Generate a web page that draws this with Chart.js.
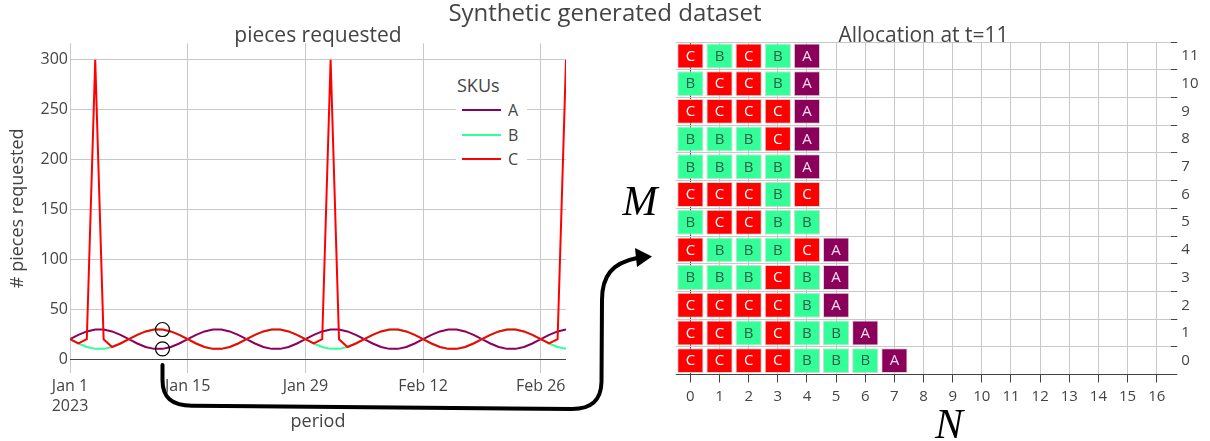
<!DOCTYPE html>
<html><head><meta charset="utf-8">
<script src="https://cdn.jsdelivr.net/npm/chart.js@4.4.1/dist/chart.umd.min.js"></script>
<style>
html,body{margin:0;padding:0;background:#fff;width:1210px;height:441px;overflow:hidden;font-family:'Open Sans',sans-serif;color:#444}
#wrap{position:relative;width:1210px;height:441px}
canvas{position:absolute;top:0}
.t{position:absolute;white-space:nowrap;transform:translate(-50%,-50%);color:#444;line-height:1}
.math{font-family:'Liberation Serif','DejaVu Serif',serif;font-style:italic;color:#000;font-size:42px}
#legend{position:absolute;left:456px;top:66px;width:71px;height:106px;background:#fff}
.lline{position:absolute;height:2px}
.ltxt{position:absolute;font-size:16px;color:#444;line-height:1;transform:translateY(-50%)}
svg{position:absolute;left:0;top:0;pointer-events:none}
</style></head>
<body><div id="wrap">
<canvas id="left" width="600" height="441" style="left:0"></canvas>
<canvas id="right" width="610" height="441" style="left:600px"></canvas>
<div class="t" style="left:605px;top:12px;font-size:24px">Synthetic generated dataset</div>
<div class="t" style="left:318px;top:34px;font-size:21px">pieces requested</div>
<div class="t" style="left:923.5px;top:34px;font-size:21px">Allocation at t=11</div>
<div class="t math" style="left:640px;top:201px">M</div>
<div class="t math" style="left:949px;top:424px">N</div>
<div id="legend"></div>
<svg width="1210" height="441" viewBox="0 0 1210 441">
<path d="M162.5,365 L162.5,380 C162.5,398 172,405.5 192,405.8 L572,409 C592,409 601,400 601.5,382 L602,300 C602,276 612,263 637,258" fill="none" stroke="#000" stroke-width="4" stroke-linecap="round"/>
<polygon points="652,256.5 635,248 637,267" fill="#000"/>
</svg>
</div>
<script>
// ---------- data: left chart ----------
const skus = ['A', 'B', 'C'];
const skuColors = ['#8a005a', '#33ff99', '#ff0000'];
const startDate = '2023-01-01';
const seriesA = [
 20,24.3,27.8,29.7,29.7,27.8,24.3,20,15.7,12.2,10.3,10.3,12.2,15.7,
 20,24.3,27.8,29.7,29.7,27.8,24.3,20,15.7,12.2,10.3,10.3,12.2,15.7,
 20,24.3,27.8,29.7,29.7,27.8,24.3,20,15.7,12.2,10.3,10.3,12.2,15.7,
 20,24.3,27.8,29.7,29.7,27.8,24.3,20,15.7,12.2,10.3,10.3,12.2,15.7,
 20,24.3,27.8,29.7];
const seriesB = [
 20,15.7,12.2,10.3,10.3,12.2,15.7,20,24.3,27.8,29.7,29.7,27.8,24.3,
 20,15.7,12.2,10.3,10.3,12.2,15.7,20,24.3,27.8,29.7,29.7,27.8,24.3,
 20,15.7,12.2,10.3,10.3,12.2,15.7,20,24.3,27.8,29.7,29.7,27.8,24.3,
 20,15.7,12.2,10.3,10.3,12.2,15.7,20,24.3,27.8,29.7,29.7,27.8,24.3,
 20,15.7,12.2,10.3];
const seriesC = [
 20,15.7,20,300,20,12.2,15.7,20,24.3,27.8,29.7,29.7,27.8,24.3,
 20,15.7,12.2,10.3,10.3,12.2,15.7,20,24.3,27.8,29.7,29.7,27.8,24.3,
 20,15.7,20,300,20,12.2,15.7,20,24.3,27.8,29.7,29.7,27.8,24.3,
 20,15.7,12.2,10.3,10.3,12.2,15.7,20,24.3,27.8,29.7,29.7,27.8,24.3,
 20,15.7,20,300];
const dayTicks = [0, 14, 28, 42, 56];
const dayTickLabels = [['Jan 1', '2023'], 'Jan 15', 'Jan 29', 'Feb 12', 'Feb 26'];
const yTicks = [0, 50, 100, 150, 200, 250, 300];
const markedDay = 11;

// ---------- data: right chart ----------
// allocation[M] = SKUs placed at N = 0,1,2,...
const allocation = [
 ['C','C','C','C','B','B','B','A'],
 ['C','C','B','C','B','B','A'],
 ['C','C','C','C','B','A'],
 ['B','B','B','C','B','A'],
 ['C','B','B','B','C','A'],
 ['B','C','C','B','B'],
 ['C','C','C','B','C'],
 ['B','B','B','B','A'],
 ['B','B','B','C','A'],
 ['C','C','C','C','A'],
 ['B','C','C','B','A'],
 ['C','B','C','B','A']
];
const nTicks = [0,1,2,3,4,5,6,7,8,9,10,11,12,13,14,15,16];
const mTicks = [0,1,2,3,4,5,6,7,8,9,10,11];
const cellTextColors = {A: '#f4dcea', B: '#2e5c46', C: '#ffffff'};

// ---------- common ----------
Chart.defaults.font.family = "'Open Sans', sans-serif";
Chart.defaults.color = '#444';
const GRID = '#c8c8c8';
const ZERO = '#444';
const gridColor = ctx => (ctx.tick && ctx.tick.value === 0) ? ZERO : GRID;

// ---------- legend (HTML) ----------
(function () {
  const lg = document.getElementById('legend');
  const title = document.createElement('div');
  title.className = 'ltxt';
  title.style.cssText = 'left:1px;top:19px;font-size:18px';
  title.textContent = 'SKUs';
  lg.appendChild(title);
  skus.forEach((s, i) => {
    const y = 44 + i * 24.6;
    const ln = document.createElement('div');
    ln.className = 'lline';
    ln.style.cssText = `left:6px;top:${y - 1}px;width:39px;background:${skuColors[i]}`;
    lg.appendChild(ln);
    const tx = document.createElement('div');
    tx.className = 'ltxt';
    tx.style.cssText = `left:52px;top:${y}px`;
    tx.textContent = s;
    lg.appendChild(tx);
  });
})();

// ---------- left chart ----------
const series = [seriesA, seriesB, seriesC];
const leftDatasets = skus.map((s, i) => ({
  label: s,
  data: series[i].map((v, d) => ({x: d, y: v})),
  borderColor: skuColors[i],
  backgroundColor: skuColors[i],
  borderWidth: 2,
  pointRadius: 0,
  tension: 0,
  order: 3 - i
}));
leftDatasets.push({
  label: 'marks',
  data: [{x: markedDay, y: seriesA[markedDay]}, {x: markedDay, y: seriesC[markedDay]}],
  showLine: false,
  pointRadius: 7,
  pointBorderColor: '#000',
  pointBackgroundColor: 'rgba(0,0,0,0)',
  pointBorderWidth: 1.2,
  order: 0
});

new Chart(document.getElementById('left'), {
  type: 'line',
  data: {datasets: leftDatasets},
  options: {
    responsive: false, animation: false, events: [],
    layout: {padding: {left: 0, top: 43.3, right: 34, bottom: 0}},
    plugins: {legend: {display: false}, tooltip: {enabled: false}},
    scales: {
      x: {
        type: 'linear', min: 0, max: seriesA.length - 1,
        afterBuildTicks: s => { s.ticks = dayTicks.map(v => ({value: v})); },
        afterFit: s => { s.height = 67.7; },
        ticks: {autoSkip: false, maxRotation: 0, padding: 3, font: {size: 16, lineHeight: 1.25},
          callback: v => dayTickLabels[dayTicks.indexOf(v)]},
        grid: {color: GRID, drawTicks: false},
        border: {display: false},
        title: {display: true, text: 'period', font: {size: 18}, padding: {top: 0, bottom: 8.3}}
      },
      y: {
        type: 'linear', min: -14.2, max: 316.6,
        afterBuildTicks: s => { s.ticks = yTicks.map(v => ({value: v})); },
        afterFit: s => { s.width = 70; },
        ticks: {padding: 2, font: {size: 16}},
        grid: {color: gridColor, drawTicks: false},
        border: {display: false},
        title: {display: true, text: '# pieces requested', font: {size: 18}, padding: {top: 7, bottom: 0}}
      }
    }
  }
});

// ---------- right chart ----------
const rightDatasets = skus.map((s, i) => {
  const data = [];
  allocation.forEach((row, m) => row.forEach((sku, n) => {
    if (sku === s) data.push({x: [n - 0.45, n + 0.45], y: m});
  }));
  return {label: s, data, backgroundColor: skuColors[i], borderColor: 'rgba(210,210,210,0.9)',
    borderWidth: 1, borderSkipped: false, grouped: false, categoryPercentage: 1, barPercentage: 0.9};
});

const cellLabels = {
  id: 'cellLabels',
  afterDatasetsDraw(chart) {
    const ctx = chart.ctx;
    ctx.save();
    ctx.font = "15px 'Open Sans'";
    ctx.textAlign = 'center';
    ctx.textBaseline = 'middle';
    chart.data.datasets.forEach((ds, di) => {
      chart.getDatasetMeta(di).data.forEach(el => {
        const p = el.getCenterPoint();
        ctx.fillStyle = cellTextColors[ds.label];
        ctx.fillText(ds.label, p.x, p.y + 0.5);
      });
    });
    ctx.restore();
  }
};

new Chart(document.getElementById('right'), {
  type: 'bar',
  data: {datasets: rightDatasets},
  plugins: [cellLabels],
  options: {
    indexAxis: 'y',
    responsive: false, animation: false, events: [],
    layout: {padding: {left: 75.8, top: 42.15, right: 0, bottom: 0}},
    plugins: {legend: {display: false}, tooltip: {enabled: false}},
    scales: {
      x: {
        type: 'linear', min: -0.5, max: 16.5,
        afterBuildTicks: s => { s.ticks = nTicks.map(v => ({value: v})); },
        afterFit: s => { s.height = 66.5; },
        ticks: {autoSkip: false, maxRotation: 0, padding: 5, font: {size: 15}},
        grid: {color: gridColor, drawTicks: true, tickLength: 8, tickColor: '#444'},
        border: {display: false}
      },
      y: {
        type: 'linear', position: 'right', min: -0.5, max: 11.5, offset: false,
        afterBuildTicks: s => { s.ticks = mTicks.map(v => ({value: v})); },
        afterFit: s => { s.width = 38.7; },
        ticks: {autoSkip: false, padding: 4, font: {size: 15}},
        grid: {color: gridColor, drawTicks: true, tickLength: 6, tickColor: '#444'},
        border: {display: false}
      }
    }
  }
});
</script>
</body></html>
